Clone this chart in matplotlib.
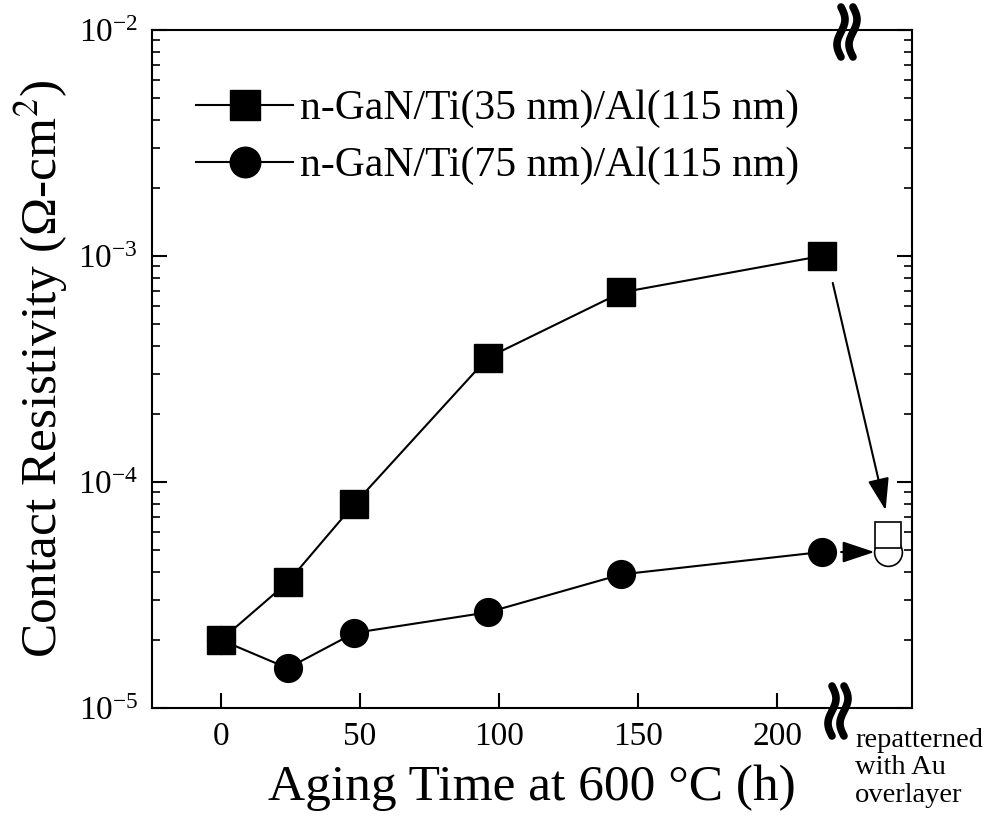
import numpy as np
import matplotlib.pyplot as plt
from matplotlib.ticker import LogLocator, NullFormatter

plt.rcParams['font.family'] = ['Liberation Serif', 'DejaVu Serif']
plt.rcParams['mathtext.fontset'] = 'stix'

hours = [0, 24, 48, 96, 144, 216]
rho_ti35 = [2.0e-5, 3.6e-5, 8.0e-5, 3.55e-4, 6.9e-4, 1.0e-3]
rho_ti75 = [2.0e-5, 1.5e-5, 2.15e-5, 2.65e-5, 3.9e-5, 4.9e-5]

# repatterned with Au overlayer
hours_rep = [240]
rho_ti35_rep = [5.8e-5]
rho_ti75_rep = [4.9e-5]

labels = ["n-GaN/Ti(35 nm)/Al(115 nm)", "n-GaN/Ti(75 nm)/Al(115 nm)"]

fig = plt.figure(figsize=(9.84, 8.30), dpi=100)
ax = fig.add_axes([152/984, 1-708/830, 760/984, 678/830])

ax.plot(hours, rho_ti75, '-o', color='black', lw=1.5, ms=20, label=labels[1], zorder=3)
ax.plot(hours, rho_ti35, '-s', color='black', lw=1.5, ms=20, label=labels[0], zorder=4)
ax.plot(hours_rep, rho_ti75_rep, 'o', mfc='white', mec='black', mew=1.2, ms=20, zorder=3)
ax.plot(hours_rep, rho_ti35_rep, 's', mfc='white', mec='black', mew=1.2, ms=19, zorder=4)

arrow = dict(arrowstyle='-|>,head_length=0.9,head_width=0.3', color='black', lw=1.5,
             mutation_scale=22, shrinkA=0, shrinkB=0)
ax.annotate('', xy=(239, 7.5e-5), xytext=(220, 7.6e-4), arrowprops=arrow)
ax.annotate('', xy=(235, 4.9e-5), xytext=(223, 4.9e-5), arrowprops=arrow)

ax.set_yscale('log')
ax.set_xlim(-24.8, 248.5)
ax.set_ylim(1e-5, 1e-2)
ax.set_xticks([0, 50, 100, 150, 200])
ax.yaxis.set_major_locator(LogLocator(base=10, numticks=10))
ax.yaxis.set_minor_locator(LogLocator(base=10, subs=np.arange(2, 10), numticks=20))
ax.yaxis.set_minor_formatter(NullFormatter())

ax.tick_params(axis='x', which='major', direction='in', length=11, width=1.5,
               labelsize=24, pad=10, top=False)
ax.tick_params(axis='y', which='major', direction='in', length=11, width=1.5,
               labelsize=24, pad=10, right=True)
ax.tick_params(axis='y', which='minor', direction='in', length=6, width=1.2, right=True)
for s in ax.spines.values():
    s.set_linewidth(1.5)

ax.set_xlabel("Aging Time at 600 °C (h)", fontsize=37, labelpad=9)
ax.set_ylabel("Contact Resistivity (Ω-cm$^2$)", fontsize=37, labelpad=6)

handles, labs = ax.get_legend_handles_labels()
ax.legend(handles[::-1], labs[::-1], loc='upper left', bbox_to_anchor=(0.058, 0.912),
          frameon=False, fontsize=30, handlelength=2.33, handletextpad=0.17,
          labelspacing=0.45, borderaxespad=0, borderpad=0, markerscale=1.1)

# axis break marks
def brk(xc_px, yc_px):
    t = np.linspace(0, 1, 40)
    for dx in (-6, 6):
        xs = xc_px + dx + 4*np.sin(2*np.pi*t)
        ys = yc_px - 25 + 50*t
        ax.plot((xs-152)/760, (708-ys)/678, color='black', lw=5.5, solid_capstyle='round',
                transform=ax.transAxes, clip_on=False, zorder=6)

brk(847, 32)
brk(838, 711)

fig.text(855/984, 1-728/830, "repatterned\nwith Au\noverlayer", fontsize=20.5,
         ha='left', va='top', linespacing=1.12)

fig.savefig("out.png", dpi=100)
